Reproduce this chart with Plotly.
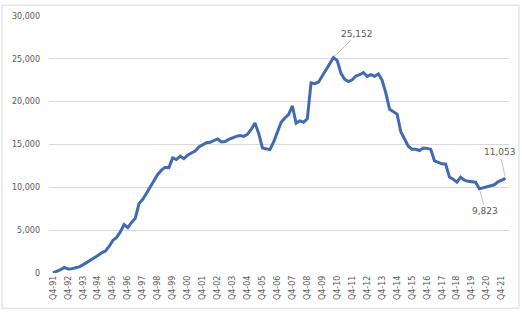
import plotly.graph_objects as go

# Quarterly categories from Q4-91 to Q1-22
quarters = ["Q4-91"] + [f"Q{q}-{y % 100:02d}" for y in range(1992, 2022) for q in (1, 2, 3, 4)] + ["Q1-22"]

values = [
    0, 150, 380, 650, 480, 500, 580, 720, 950, 1200,
    1480, 1750, 2050, 2350, 2550, 3100, 3800, 4150, 4800, 5650,
    5300, 5900, 6400, 8100, 8600, 9300, 10000, 10800, 11500, 12000,
    12350, 12300, 13450, 13250, 13650, 13350, 13750, 14000, 14250, 14700,
    15000, 15200, 15250, 15450, 15650, 15300, 15350, 15600, 15800, 15950,
    16050, 15950, 16200, 16750, 17500, 16300, 14600, 14500, 14400, 15300,
    16500, 17600, 18100, 18500, 19500, 17500, 17750, 17600, 18000, 22200,
    22100, 22300, 23000, 23700, 24500, 25152, 24800, 23300, 22600, 22350,
    22550, 23000, 23150, 23400, 22950, 23150, 22950, 23250, 22500, 21000,
    19100, 18850, 18550, 16500, 15600, 14800, 14450, 14450, 14300, 14600,
    14550, 14450, 13100, 12950, 12750, 12700, 11200, 10950, 10600, 11200,
    10850, 10700, 10650, 10600, 9823, 9950, 10100, 10250, 10300, 10650,
    10850, 11053,
]

tick_labels = ["Q4-91", "Q4-92", "Q4-93", "Q4-94", "Q4-95", "Q4-96", "Q4-97", "Q4-98",
               "Q4-99", "Q4-00", "Q4-01", "Q4-02", "Q4-03", "Q4-04", "Q4-05", "Q4-06",
               "Q4-07", "Q4-08", "Q4-09", "Q4-10", "Q4-11", "Q4-12", "Q4-13", "Q4-14",
               "Q4-15", "Q4-16", "Q4-17", "Q4-18", "Q4-19", "Q4-20", "Q4-21"]

y_ticks = [0, 5000, 10000, 15000, 20000, 25000, 30000]

peak_i = values.index(max(values))
min_i = values.index(min(values[100:]))
last_i = len(values) - 1

fig = go.Figure()
fig.add_trace(go.Scatter(
    x=quarters, y=values, mode="lines",
    line=dict(color="#416AB0", width=3),
    hoverinfo="skip",
))

grey = "#595959"
font_family = "DejaVu Sans"

def label(i, text, ax, ay):
    fig.add_annotation(
        x=quarters[i], y=values[i], text=text,
        showarrow=True, arrowhead=0, arrowwidth=1, arrowcolor="#bfbfbf",
        ax=ax, ay=ay, standoff=2,
        font=dict(family=font_family, size=9, color=grey),
    )

label(peak_i, f"{values[peak_i]:,}", 24, -24)
label(min_i, f"{values[min_i]:,}", 6, 22)
label(last_i, f"{values[last_i]:,}", -6, -26)

# light chart border
fig.add_shape(type="rect", xref="paper", yref="paper",
              x0=-0.102, x1=1.0217, y0=-0.137, y1=1.042,
              line=dict(color="#d9d9d9", width=1), fillcolor="rgba(0,0,0,0)", layer="below")

fig.update_layout(
    width=522, height=312,
    margin=dict(l=48, r=13, t=12, b=38),
    paper_bgcolor="white", plot_bgcolor="white",
    showlegend=False,
    font=dict(family=font_family, size=8, color=grey),
    xaxis=dict(
        type="category",
        range=[-1.07, 121.93],
        tickmode="array", tickvals=tick_labels, ticktext=tick_labels,
        tickangle=-90, showgrid=False, showline=False, zeroline=False,
        ticks="", tickfont=dict(family=font_family, size=8, color=grey),
    ),
    yaxis=dict(
        range=[0, 30000],
        tickmode="array", tickvals=y_ticks,
        tickformat=",d",
        showgrid=True, gridcolor="#d9d9d9", gridwidth=1,
        zeroline=False, showline=False, ticks="",
        ticklabelstandoff=8,
        tickfont=dict(family=font_family, size=8, color=grey),
    ),
)

fig.write_html("out.html")
